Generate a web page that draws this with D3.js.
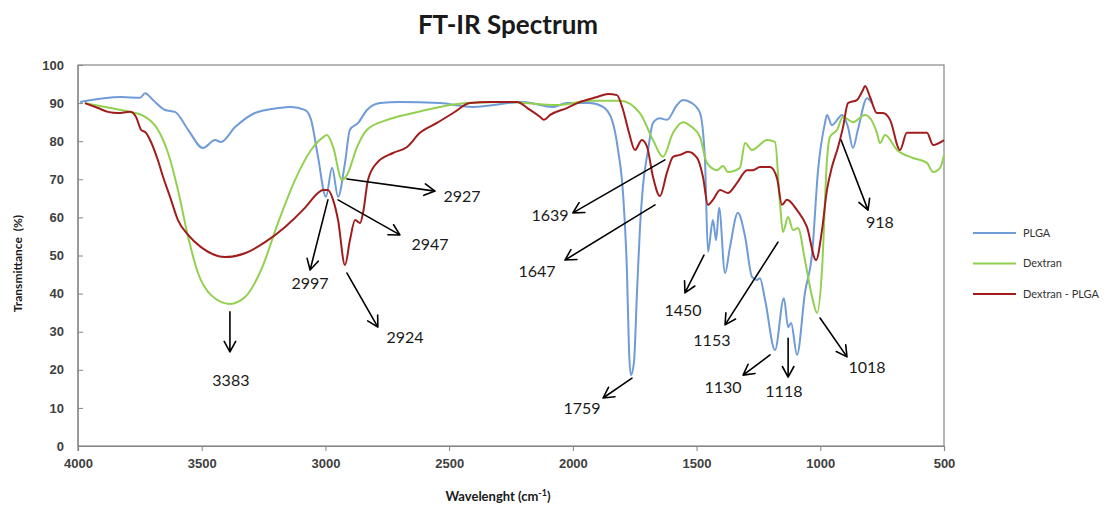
<!DOCTYPE html>
<html>
<head>
<meta charset="utf-8">
<script src="https://cdn.jsdelivr.net/npm/d3@7"></script>
<style>
  body { margin: 0; background: #fff; }
  svg { display: block; font-family: Lato, "Open Sans", sans-serif; }
</style>
</head>
<body>
<script>
// wavenumber (cm-1) / transmittance (%)
const plgaWn = [3992, 3826, 3749, 3729, 3697, 3648, 3608, 3555, 3495, 3446, 3422, 3365, 3285, 3192, 3139, 3083, 3058, 3030, 2998, 2973, 2949, 2921, 2901, 2868, 2832, 2779, 2700, 2537, 2404, 2202, 2080, 2024, 1931, 1878, 1842, 1818, 1797, 1781, 1773, 1765, 1753, 1741, 1729, 1717, 1696, 1676, 1648, 1620, 1579, 1555, 1519, 1486, 1466, 1454, 1434, 1421, 1409, 1385, 1365, 1333, 1304, 1276, 1256, 1244, 1223, 1183, 1147, 1130, 1118, 1094, 1062, 1033, 1009, 981, 973, 953, 912, 888, 868, 848, 811, 791];
const plgaT = [90.3, 91.6, 91.4, 92.6, 90.8, 88.2, 87.7, 83, 78.2, 80.3, 79.8, 83.7, 87.4, 88.7, 89, 88.2, 85.6, 75.9, 65.4, 73, 65.4, 74.3, 83, 84.8, 88.2, 90, 90.3, 90, 89, 90.3, 89, 90, 90, 89, 85.6, 78, 66, 45, 25, 18.6, 22, 40, 57, 68, 77.7, 84.8, 86, 85.6, 89.5, 90.8, 90, 87.4, 75, 51, 59.3, 54, 62.5, 45.4, 52.2, 61.2, 55, 44.4, 43.6, 44, 38.3, 25.2, 38.8, 31.2, 32.3, 23.9, 40.2, 50.6, 72.4, 84.8, 86.9, 84.2, 86.9, 83.7, 78.2, 83, 91.3, 90];

const dexWn = [3972, 3867, 3790, 3729, 3677, 3636, 3596, 3555, 3515, 3462, 3386, 3325, 3260, 3192, 3123, 3058, 3010, 2994, 2969, 2933, 2913, 2872, 2832, 2751, 2646, 2537, 2428, 2266, 2064, 1931, 1809, 1729, 1676, 1636, 1595, 1555, 1519, 1486, 1458, 1417, 1393, 1373, 1325, 1304, 1276, 1215, 1183, 1163, 1151, 1130, 1110, 1090, 1062, 1033, 1013, 993, 973, 961, 932, 908, 868, 819, 771, 759, 738, 690, 625, 569, 544, 516, 500];
const dexT = [90, 88.7, 87.7, 86.4, 83, 76.9, 67.2, 54.9, 45.4, 39.6, 37.3, 39.1, 46.2, 58.5, 69.8, 77.7, 81, 81.6, 78.5, 69.8, 71.1, 78.5, 83, 85.6, 87.4, 89, 90, 90.3, 89.5, 90.6, 90.6, 87.4, 80.3, 75.9, 82.2, 85, 83.7, 81.1, 74.3, 72.4, 73.5, 71.9, 73, 79.5, 77.7, 80.3, 79.8, 63.8, 56.2, 60.1, 56.7, 57.2, 48.8, 39.1, 34.9, 46.2, 75, 81.1, 83, 86.4, 85, 86.9, 82.2, 79.5, 81.6, 77.7, 75.6, 74.3, 71.9, 73, 76.4];

const mixWn = [3972, 3919, 3879, 3838, 3790, 3766, 3745, 3725, 3705, 3677, 3656, 3628, 3596, 3555, 3503, 3406, 3325, 3244, 3163, 3083, 3030, 3010, 2990, 2969, 2949, 2921, 2901, 2880, 2860, 2848, 2828, 2792, 2727, 2670, 2618, 2549, 2484, 2416, 2335, 2226, 2173, 2133, 2117, 2092, 2024, 1971, 1902, 1858, 1822, 1797, 1773, 1749, 1721, 1700, 1676, 1648, 1620, 1595, 1567, 1535, 1498, 1474, 1454, 1434, 1405, 1373, 1337, 1296, 1272, 1244, 1203, 1175, 1155, 1135, 1094, 1054, 1017, 993, 973, 953, 928, 908, 888, 852, 828, 819, 799, 771, 747, 718, 678, 650, 569, 544, 500];
const mixT = [90, 88.7, 87.7, 87.4, 87.7, 86.4, 83, 82.2, 79.8, 75, 70.6, 65.4, 59.3, 55.4, 52.2, 49.6, 50.6, 53.5, 57.5, 62.5, 66.4, 67.2, 67.2, 64.6, 59.3, 47.5, 54, 59.3, 58.5, 61.2, 69.8, 74.3, 76.9, 78.5, 82.2, 84.8, 87.4, 90, 90.3, 90.3, 88.2, 86.4, 85.6, 86.9, 88.7, 90.3, 91.6, 92.4, 92.1, 88.2, 82.2, 77.7, 80.3, 78.5, 70.6, 65.6, 71.7, 75.9, 76.4, 77.2, 75.6, 70.6, 63.3, 64.6, 67.2, 66.4, 69, 72.4, 72.4, 73.2, 73.2, 70.3, 63.3, 64.6, 61.9, 57.5, 48.8, 56.7, 67.2, 73.2, 78.5, 83.7, 90, 90.8, 93.4, 94.5, 91.6, 87.4, 87.4, 85.6, 77.7, 82.2, 82.2, 79, 80.3];

const seriesNames = ["PLGA", "Dextran", "Dextran - PLGA"];
const seriesColors = ["#6f9bd8", "#92d050", "#a11d1d"];

const xTicks = [4000, 3500, 3000, 2500, 2000, 1500, 1000, 500];
const yTicks = [0, 10, 20, 30, 40, 50, 60, 70, 80, 90, 100];

// peak labels: text, arrow from (w0,t0) to (w1,t1), label at (lw,lt)
const peakText = ["3383", "2997", "2924", "2947", "2927", "1639", "1647", "1450", "1153", "1130", "1118", "1018", "918", "1759"];
const peakFrom = [[3386, 35.2], [2990, 64.6], [2913, 45.4], [2949, 64.6], [2913, 70.1], [1628, 75.1], [1668, 63.3], [1470, 50.1], [1171, 53.5], [1203, 23.9], [1130, 28.3], [1001, 33.6], [916, 80.3], [1761, 17.8]];
const peakTo = [[3386, 24.7], [3062, 46.2], [2788, 31.2], [2699, 55.4], [2557, 66.9], [2000, 61.2], [2032, 48.8], [1547, 40.2], [1385, 31.8], [1312, 18.6], [1130, 18.1], [892, 23.4], [807, 61.9], [1878, 12.6]];
const peakAt = [[3382, 17.3], [3062, 42.8], [2678, 28.6], [2577, 52.8], [2448, 65.6], [2092, 60.6], [2145, 45.7], [1555, 35.7], [1438, 27.8], [1393, 15.5], [1147, 14.2], [811, 20.7], [759, 58.8], [1963, 10]];

const width = 1108, height = 506;
const margin = {top: 65, right: 164, bottom: 60, left: 78};

const svg = d3.select("body").append("svg")
    .attr("width", width)
    .attr("height", height);

const x = d3.scaleLinear()
    .domain([4000, 500])
    .range([margin.left, width - margin.right]);

const y = d3.scaleLinear()
    .domain([0, 100])
    .range([height - margin.bottom, margin.top]);

const axisColor = "#868686";
const textColor = "#404040";

// plot frame
svg.append("rect")
    .attr("x", x(4000))
    .attr("y", y(100))
    .attr("width", x(500) - x(4000))
    .attr("height", y(0) - y(100))
    .attr("fill", "none")
    .attr("stroke", axisColor)
    .attr("stroke-width", 1.2);

// x axis
const gx = svg.append("g")
    .attr("transform", `translate(0,${y(0)})`)
    .call(d3.axisBottom(x).tickValues(xTicks).tickSize(5).tickPadding(8).tickFormat(d3.format("d")));

// y axis, ticks point inwards
const gy = svg.append("g")
    .attr("transform", `translate(${x(4000)},0)`)
    .call(d3.axisLeft(y).tickValues(yTicks).tickSize(-5).tickPadding(14));

[gx, gy].forEach(g => {
  g.select(".domain").attr("stroke", axisColor).attr("stroke-width", 1.2);
  g.selectAll(".tick line").attr("stroke", axisColor);
  g.selectAll(".tick text")
      .attr("fill", textColor)
      .style("font-size", "13px")
      .style("font-weight", "bold");
});
gy.select(".domain").attr("d", `M0,${y(100)}V${y(0) + 5}`);

// spectra
const line = d3.line()
    .x(d => x(d[0]))
    .y(d => y(d[1]))
    .curve(d3.curveMonotoneX);

const series = [
  d3.zip(plgaWn, plgaT),
  d3.zip(dexWn, dexT),
  d3.zip(mixWn, mixT)
];

svg.append("g")
    .attr("fill", "none")
    .attr("stroke-width", 2)
    .attr("stroke-linejoin", "round")
  .selectAll("path")
  .data(series)
  .join("path")
    .attr("stroke", (d, i) => seriesColors[i])
    .attr("d", line);

// peak arrows
const ann = svg.append("g")
    .attr("stroke", "#000")
    .attr("stroke-width", 1.6)
    .attr("fill", "none")
    .attr("stroke-linecap", "round")
    .attr("stroke-linejoin", "round");

peakText.forEach((t, i) => {
  const x0 = x(peakFrom[i][0]), y0 = y(peakFrom[i][1]);
  const x1 = x(peakTo[i][0]), y1 = y(peakTo[i][1]);
  const a = Math.atan2(y1 - y0, x1 - x0);
  const len = 12, spread = 0.5;
  ann.append("path")
      .attr("d", `M${x0},${y0}L${x1},${y1}` +
        `M${x1 - len * Math.cos(a - spread)},${y1 - len * Math.sin(a - spread)}` +
        `L${x1},${y1}` +
        `L${x1 - len * Math.cos(a + spread)},${y1 - len * Math.sin(a + spread)}`);
});

svg.append("g")
    .style("font-size", "16px")
    .attr("fill", "#1a1a1a")
    .attr("text-anchor", "middle")
  .selectAll("text")
  .data(peakText)
  .join("text")
    .attr("x", (d, i) => x(peakAt[i][0]))
    .attr("y", (d, i) => y(peakAt[i][1]))
    .attr("dy", "0.35em")
    .text(d => d);

// titles
svg.append("text")
    .attr("x", 508)
    .attr("y", 34)
    .attr("text-anchor", "middle")
    .attr("fill", "#1a1a1a")
    .style("font-size", "26px")
    .style("font-weight", "bold")
    .text("FT-IR Spectrum");

const xLabel = svg.append("text")
    .attr("x", 498)
    .attr("y", 501)
    .attr("text-anchor", "middle")
    .attr("fill", "#1a1a1a")
    .style("font-size", "13px")
    .style("font-weight", "bold");
xLabel.append("tspan").text("Wavelenght (cm");
xLabel.append("tspan").attr("dy", -5).style("font-size", "9px").text("-1");
xLabel.append("tspan").attr("dy", 5).text(")");

svg.append("text")
    .attr("transform", `translate(22,${(y(0) + y(100)) / 2 + 8}) rotate(-90)`)
    .attr("text-anchor", "middle")
    .attr("fill", "#1a1a1a")
    .style("font-size", "12px")
    .style("font-weight", "bold")
    .style("white-space", "pre")
    .text("Transmittance  (%)");

// legend
const legend = svg.append("g")
    .attr("transform", "translate(973,233)")
  .selectAll("g")
  .data(seriesNames)
  .join("g")
    .attr("transform", (d, i) => `translate(0,${i * 30.5})`);

legend.append("line")
    .attr("x2", 43)
    .attr("stroke", (d, i) => seriesColors[i])
    .attr("stroke-width", 2);

legend.append("text")
    .attr("x", 50)
    .attr("dy", "0.35em")
    .attr("fill", "#333")
    .style("font-size", "11px")
    .text(d => d);
</script>
</body>
</html>
